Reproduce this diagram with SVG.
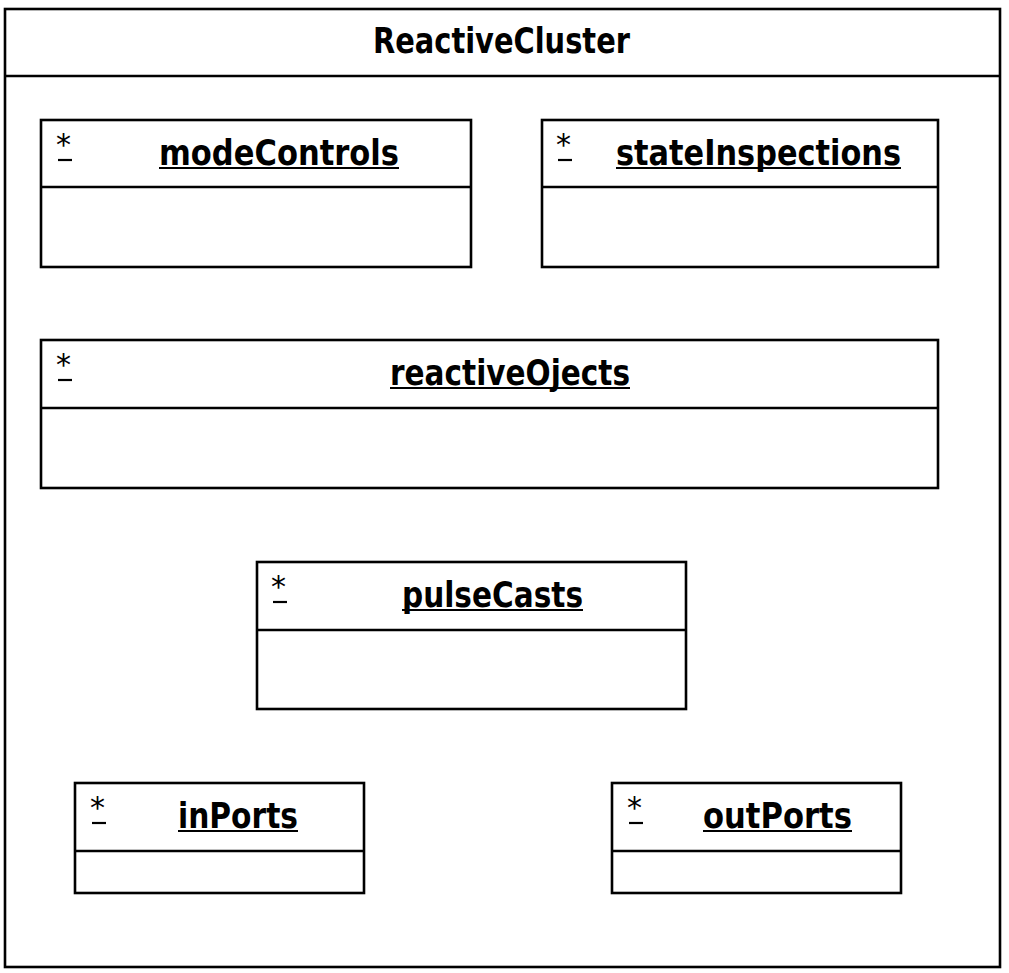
<svg xmlns="http://www.w3.org/2000/svg" width="1009" height="973" viewBox="0 0 1009 973">
<style>
.box{fill:#fff;stroke:#000;stroke-width:2.6}
.ln{stroke:#000;stroke-width:2.6;fill:none}
.ul{stroke:#000;stroke-width:2.2}
.t{font-family:"DejaVu Sans",Verdana,sans-serif;font-weight:bold;font-size:35px;text-anchor:middle;fill:#000}
.st{font-family:"DejaVu Sans",Verdana,sans-serif;font-size:30px;fill:#000}
</style>
<rect width="1009" height="973" fill="#fff"/>
<g id="ReactiveCluster">
<rect class="box" x="5" y="9" width="995" height="958"/>
<line class="ln" x1="5" y1="76" x2="1000" y2="76"/>
<text class="t" x="501.5" y="53" textLength="257" lengthAdjust="spacingAndGlyphs">ReactiveCluster</text>
</g>
<g id="modeControls">
<rect class="box" x="41" y="120" width="430" height="147"/>
<line class="ln" x1="41" y1="187" x2="471" y2="187"/>
<text class="st" x="56" y="155">*</text>
<line class="ul" x1="58" y1="160" x2="72" y2="160"/>
<text class="t" x="279" y="165" textLength="240" lengthAdjust="spacingAndGlyphs">modeControls</text>
<line class="ul" x1="159" y1="168" x2="399" y2="168"/>
</g>
<g id="stateInspections">
<rect class="box" x="542" y="120" width="396" height="147"/>
<line class="ln" x1="542" y1="187" x2="938" y2="187"/>
<text class="st" x="556" y="155">*</text>
<line class="ul" x1="558" y1="160" x2="572" y2="160"/>
<text class="t" x="758.5" y="165" textLength="285" lengthAdjust="spacingAndGlyphs">stateInspections</text>
<line class="ul" x1="616" y1="168" x2="901" y2="168"/>
</g>
<g id="reactiveOjects">
<rect class="box" x="41" y="340" width="897" height="148"/>
<line class="ln" x1="41" y1="408" x2="938" y2="408"/>
<text class="st" x="56" y="375">*</text>
<line class="ul" x1="58" y1="380" x2="72" y2="380"/>
<text class="t" x="510" y="385" textLength="240" lengthAdjust="spacingAndGlyphs">reactiveOjects</text>
<line class="ul" x1="390" y1="388" x2="630" y2="388"/>
</g>
<g id="pulseCasts">
<rect class="box" x="257" y="562" width="429" height="147"/>
<line class="ln" x1="257" y1="630" x2="686" y2="630"/>
<text class="st" x="271" y="597">*</text>
<line class="ul" x1="273" y1="602" x2="287" y2="602"/>
<text class="t" x="492.5" y="607" textLength="181" lengthAdjust="spacingAndGlyphs">pulseCasts</text>
<line class="ul" x1="402" y1="610" x2="583" y2="610"/>
</g>
<g id="inPorts">
<rect class="box" x="75" y="783" width="289" height="110"/>
<line class="ln" x1="75" y1="851" x2="364" y2="851"/>
<text class="st" x="90" y="818">*</text>
<line class="ul" x1="92" y1="823" x2="106" y2="823"/>
<text class="t" x="238" y="828" textLength="120" lengthAdjust="spacingAndGlyphs">inPorts</text>
<line class="ul" x1="178" y1="831" x2="298" y2="831"/>
</g>
<g id="outPorts">
<rect class="box" x="612" y="783" width="289" height="110"/>
<line class="ln" x1="612" y1="851" x2="901" y2="851"/>
<text class="st" x="627" y="818">*</text>
<line class="ul" x1="629" y1="823" x2="643" y2="823"/>
<text class="t" x="777.5" y="828" textLength="149" lengthAdjust="spacingAndGlyphs">outPorts</text>
<line class="ul" x1="703" y1="831" x2="852" y2="831"/>
</g>
<g id="connectors"></g>
</svg>
